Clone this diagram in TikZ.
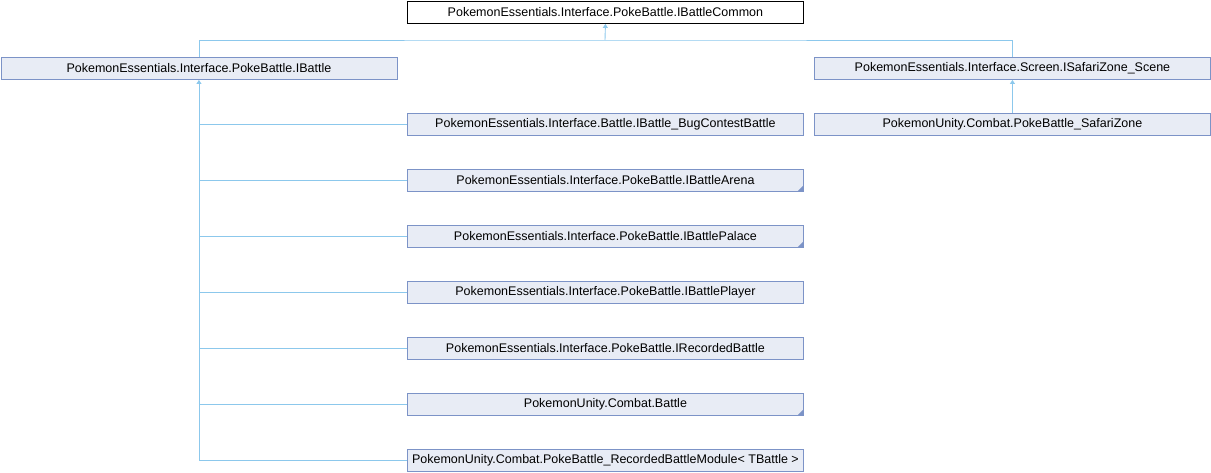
\documentclass[tikz,border=0pt]{standalone}
\usepackage{fontspec}
\setmainfont{Liberation Sans}
\usetikzlibrary{arrows.meta}
\definecolor{boxfill}{HTML}{E8ECF5}
\definecolor{boxdraw}{HTML}{7C93C7}
\definecolor{edgecol}{HTML}{8CC8EC}
\begin{document}
\begin{tikzpicture}[x=1pt,y=-1pt,
  cls/.style={draw=boxdraw,fill=boxfill,line width=0.9pt,minimum width=396pt,minimum height=22pt,inner sep=0pt,font=\fontsize{12.5}{14}\selectfont,anchor=north west},
  root/.style={cls,draw=black,fill=white},
  edge/.style={draw=edgecol,line width=0.9pt},
  inh/.style={edge,-{Triangle[width=5pt,length=4pt]}},
  more/.style={path picture={\fill[boxdraw] ([xshift=-0.5pt,yshift=0.5pt]path picture bounding box.south east) -- ++(-5pt,0) -- ++(5pt,5pt) -- cycle;}}]
\useasboundingbox (0,0) rectangle (1211,472);
\node[root] (common) at (407,1) {PokemonEssentials.Interface.PokeBattle.IBattleCommon};
\node[cls] (ibattle) at (0.5,57) {PokemonEssentials.Interface.PokeBattle.IBattle};
\node[cls] (safscene) at (814,57) {PokemonEssentials.Interface.Screen.ISafariZone\_Scene};
\node[cls] (safzone) at (814,113) {PokemonUnity.Combat.PokeBattle\_SafariZone};
\node[cls] (bug) at (407,113) {PokemonEssentials.Interface.Battle.IBattle\_BugContestBattle};
\node[cls,more] (arena) at (407,169) {PokemonEssentials.Interface.PokeBattle.IBattleArena};
\node[cls,more] (palace) at (407,225) {PokemonEssentials.Interface.PokeBattle.IBattlePalace};
\node[cls] (player) at (407,281) {PokemonEssentials.Interface.PokeBattle.IBattlePlayer};
\node[cls] (recorded) at (407,337) {PokemonEssentials.Interface.PokeBattle.IRecordedBattle};
\node[cls,more] (battle) at (407,393) {PokemonUnity.Combat.Battle};
\node[cls] (module) at (407,449) {PokemonUnity.Combat.PokeBattle\_RecordedBattleModule< TBattle >};
% top junction
\coordinate (jt) at (605,40);
\draw[edge] (ibattle.north) |- (jt) -| (safscene.north);
\draw[inh] (jt) -- (common.south);
\draw[inh] (safzone.north) -- (safscene.south);
\foreach \n in {bug,arena,palace,player,recorded,battle}
  \draw[edge] (\n.west) -- (\n.west -| ibattle.south);
\draw[inh] (module.west) -| (ibattle.south);
\end{tikzpicture}
\end{document}
